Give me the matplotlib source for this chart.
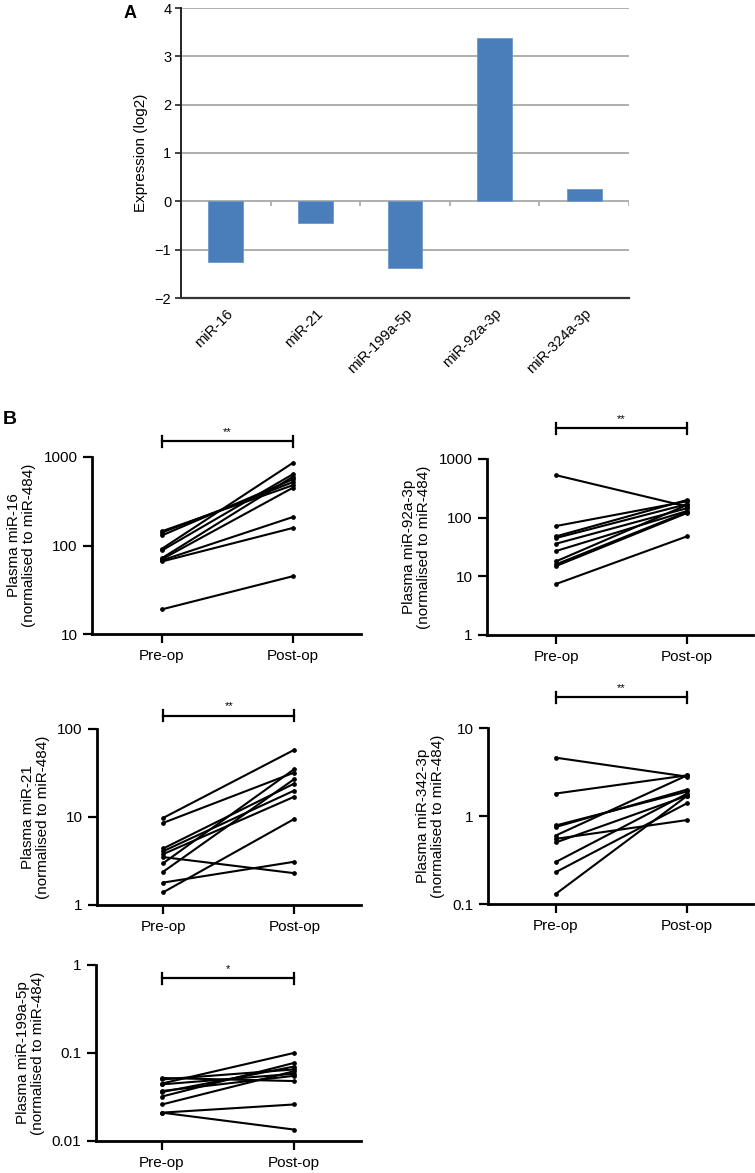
import numpy as np
import matplotlib.pyplot as plt
from matplotlib import transforms

plt.rcParams['font.family'] = ['Liberation Sans', 'DejaVu Sans']

# panel A data
mirs = ["miR-16", "miR-21", "miR-199a-5p", "miR-92a-3p", "miR-324a-3p"]
expr_log2 = [-1.25, -0.45, -1.37, 3.37, 0.26]

# panel B data (pre-op vs post-op, one line per patient)
timepoints = ["Pre-op", "Post-op"]

mir16_pre = [145, 140, 130, 92, 88, 72, 70, 68, 66, 19]
mir16_post = [480, 520, 560, 860, 640, 600, 450, 210, 158, 45]

mir92_pre = [530, 72, 48, 45, 36, 27, 18, 16, 15, 7.4]
mir92_post = [155, 190, 200, 170, 145, 130, 165, 125, 120, 48]

mir21_pre = [9.8, 8.6, 4.4, 4.1, 3.8, 3.5, 3.0, 2.4, 1.8, 1.4]
mir21_post = [58, 32, 24, 20, 17, 2.3, 35, 27, 3.1, 9.5]

mir342_pre = [4.6, 1.8, 0.78, 0.75, 0.6, 0.55, 0.5, 0.3, 0.23, 0.13]
mir342_post = [2.8, 2.9, 1.9, 2.0, 2.9, 0.9, 1.7, 1.8, 1.4, 1.7]

mir199_pre = [0.052, 0.050, 0.045, 0.044, 0.037, 0.036, 0.032, 0.026, 0.021, 0.021]
mir199_post = [0.048, 0.065, 0.100, 0.058, 0.055, 0.070, 0.077, 0.062, 0.026, 0.0135]

W, H = 755, 1173
fig = plt.figure(figsize=(W / 100, H / 100), dpi=100)


def px_axes(left, top, right, bottom):
    return fig.add_axes([left / W, 1 - bottom / H, (right - left) / W, (bottom - top) / H])


# ---- panel A ----
axA = px_axes(181, 8, 629, 298)
x = np.arange(len(mirs))
axA.set_xlim(-0.5, len(mirs) - 0.5)
axA.set_ylim(-2, 4)
for yv in range(-1, 5):
    axA.axhline(yv, color='#a8a8a8', lw=1.3, zorder=0)
axA.bar(x, expr_log2, width=0.39, color='#4a7ebb', edgecolor='#6d98cc', lw=0.6, zorder=2)
axA.vlines(x[:-1] + 0.5, 0, -0.09, color='#a8a8a8', lw=1.2, zorder=1)
axA.vlines(len(mirs) - 0.5, 0, -0.09, color='#a8a8a8', lw=1.2, zorder=1)
for s in ['top', 'right']:
    axA.spines[s].set_visible(False)
axA.spines['left'].set_color('#222222')
axA.spines['left'].set_linewidth(1.4)
axA.spines['bottom'].set_color('#333333')
axA.spines['bottom'].set_linewidth(1.6)
axA.set_yticks(range(-2, 5))
axA.set_yticklabels([str(v).replace('-', '\u2212') for v in range(-2, 5)], fontsize=10.5)
axA.tick_params(axis='y', length=4, width=1.2, direction='out', pad=3, color='#222222')
axA.set_xticks(x)
labs = axA.set_xticklabels(mirs, rotation=45, ha='right', va='top',
                           rotation_mode='anchor', fontsize=10.5)
off = transforms.ScaledTranslation(9 / 100, 0, fig.dpi_scale_trans)
for t in labs:
    t.set_transform(t.get_transform() + off)
axA.tick_params(axis='x', length=0, pad=6)
axA.set_ylabel("Expression (log2)", fontsize=11, labelpad=5)
fig.text(130 / W, 1 - 14 / H, "A", fontsize=13, fontweight='bold', ha='center', va='center')

# ---- panel B ----
panels = [
    # pre, post, ylabel, ylim, (left, top, right, bottom), xlim, bar_y, stars
    (mir16_pre, mir16_post, "Plasma miR-16", (10, 1000), (92, 457, 361, 634), (-0.534, 1.519), 1.09, "**"),
    (mir92_pre, mir92_post, "Plasma miR-92a-3p", (1, 1000), (487, 459, 753, 635), (-0.527, 1.504), 1.176, "**"),
    (mir21_pre, mir21_post, "Plasma miR-21", (1, 100), (97, 729, 361, 905), (-0.508, 1.51), 1.074, "**"),
    (mir342_pre, mir342_post, "Plasma miR-342-3p", (0.1, 10), (488, 728, 753, 904), (-0.515, 1.5), 1.176, "**"),
    (mir199_pre, mir199_post, "Plasma miR-199a-5p", (0.01, 1), (96, 965, 361, 1141), (-0.5, 1.51), 0.926, "*"),
]

for pre, post, ylab, ylim, rect, xlim, bar_y, stars in panels:
    ax = px_axes(*rect)
    ax.set_yscale('log')
    ax.set_ylim(*ylim)
    ax.set_xlim(*xlim)
    for a, b in zip(pre, post):
        ax.plot([0, 1], [a, b], color='black', lw=1.5, marker='o', ms=2.4, clip_on=False)
    for s in ['top', 'right']:
        ax.spines[s].set_visible(False)
    for s in ['left', 'bottom']:
        ax.spines[s].set_linewidth(2)
    decades = 10.0 ** np.arange(np.log10(ylim[0]), np.log10(ylim[1]) + 0.5)
    ax.set_yticks(decades)
    ax.set_yticklabels(['%g' % d for d in decades], fontsize=11)
    ax.minorticks_off()
    ax.set_xticks([0, 1])
    ax.set_xticklabels(timepoints, fontsize=11)
    ax.tick_params(length=6.5, width=1.6, direction='out', pad=4)
    ax.set_ylabel(ylab + "\n(normalised to miR-484)", fontsize=11, labelpad=5, linespacing=1.1)
    # significance bar
    tr = transforms.blended_transform_factory(ax.transData, ax.transAxes)
    ax.plot([0, 1], [bar_y, bar_y], color='black', lw=1.6, transform=tr, clip_on=False)
    cap = 5.5 / (rect[3] - rect[1])
    for xx in [0, 1]:
        ax.plot([xx, xx], [bar_y - cap, bar_y + cap], color='black', lw=1.6,
                transform=tr, clip_on=False)
    ax.text(0.5, bar_y + 0.025, stars, transform=tr, ha='center', va='bottom', fontsize=8)

fig.text(10 / W, 1 - 420 / H, "B", fontsize=14, fontweight='bold', ha='center', va='center')

fig.savefig("out.png", dpi=100)
